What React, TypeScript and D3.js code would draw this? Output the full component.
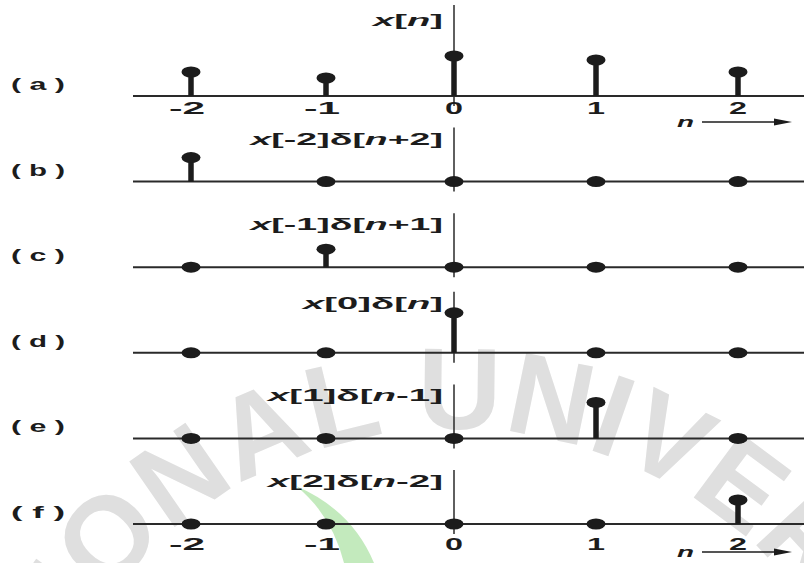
import React from "react";
import * as d3 from "d3";

// sample indices and the signal x[n]
const nValues = [-2, -1, 0, 1, 2];
const xValues = [2.4, 1.8, 4.0, 3.6, 2.4];
const tickLabels = ["-2", "-1", "0", "1", "2"];

// one row per panel: (a) is x[n], the rest keep a single shifted impulse
const panelIds = ["a", "b", "c", "d", "e", "f"];
const panelKeep = [null, -2, -1, 0, 1, 2];
const panelTitles = ["x[n]", "x[-2]δ[n+2]", "x[-1]δ[n+1]", "x[0]δ[n]", "x[1]δ[n-1]", "x[2]δ[n-2]"];

const W = 804;
const H = 563;
const INK = "#1c1c1c";
const FONT = "'Liberation Sans', Arial, sans-serif";

function MathLabel({ x, y, text, len, size }) {
    // x and n are the italic symbols, everything else upright
    return (
        <text x={x} y={y} fontSize={size} fontFamily={FONT} fontWeight="bold" fill={INK}
            textLength={len} lengthAdjust="spacingAndGlyphs">
            {text.split("").map((c, i) => (
                <tspan key={i} fontStyle={c === "x" || c === "n" ? "italic" : "normal"}>{c}</tspan>
            ))}
        </text>
    );
}

function Arrow({ y }) {
    return (
        <g>
            <MathLabel x={677} y={y + 5} text="n" len={17} size={15} />
            <line x1={702} x2={780} y1={y} y2={y} stroke={INK} strokeWidth={1.5} />
            <polygon points={`792,${y} 774,${y - 3.5} 774,${y + 3.5}`} fill={INK} />
        </g>
    );
}

export default function App() {
    const xScale = d3.scaleLinear().domain(nValues).range([191, 326, 454, 596, 738]);
    const yScale = d3.scalePoint().domain(panelIds).range([96, 524]);
    const hScale = d3.scaleLinear().domain([0, 4]).range([0, 40]);
    const x0 = xScale(0);

    // watermark arc, centred below the page
    const arc = d3.path();
    arc.arc(455, 872, 443, Math.PI, 2 * Math.PI);

    return (
        <svg width={W} height={H} viewBox={`0 0 ${W} ${H}`}
            style={{ position: "fixed", left: 0, top: 0, background: "#fff" }}>
            <defs>
                <path id="wm-arc" d={arc.toString()} />
            </defs>

            {/* scanned-page watermark and marker streak */}
            <text fontSize={116} fontFamily={FONT} fontWeight="bold" fill="#dfdfdf" letterSpacing={1}>
                <textPath href="#wm-arc" startOffset="49%" textAnchor="middle">IONAL UNIVER</textPath>
            </text>
            <path d="M 296 486 Q 332 515 344 563 L 374 563 Q 352 510 296 486 Z" fill="#bde8b6" opacity={0.9} />

            {panelIds.map((id, p) => {
                const base = yScale(id);
                const keep = panelKeep[p];
                const title = panelTitles[p];
                const titleOff = p === 0 ? 76 : keep === 0 ? 50 : 43;
                const axisTop = base - titleOff - (p === 0 ? 15 : 11);
                const titleLen = title.length * 17.5;
                return (
                    <g key={id}>
                        <text x={11} y={base - 6} fontSize={17} fontFamily={FONT} fontWeight="bold" fill={INK}
                            textLength={54} lengthAdjust="spacingAndGlyphs">{`( ${id} )`}</text>
                        <line x1={133} x2={W} y1={base} y2={base} stroke="#2a2a2a" strokeWidth={2} />
                        <line x1={x0} x2={x0} y1={axisTop} y2={base + 10} stroke="#2a2a2a" strokeWidth={1.5} />
                        <MathLabel x={x0 - 11 - titleLen} y={base - titleOff + 6} text={title} len={titleLen} size={17} />
                        {nValues.map((n, i) => {
                            const v = keep === null || keep === n ? xValues[i] : 0;
                            const top = base - hScale(v);
                            return (
                                <g key={n}>
                                    {v > 0 && <line x1={xScale(n)} x2={xScale(n)} y1={base} y2={top} stroke={INK} strokeWidth={5.5} />}
                                    <ellipse cx={xScale(n)} cy={top} rx={9.5} ry={5.5} fill={INK} />
                                </g>
                            );
                        })}
                    </g>
                );
            })}

            {/* tick labels under the first and last rows */}
            {[["a", 18], ["f", 26]].map(([id, off]) =>
                nValues.map((n, i) => (
                    <text key={`${id}${n}`} x={xScale(n) - (tickLabels[i].length * 18) / 2 - (n < 0 ? 4 : 0)}
                        y={yScale(id as string) + (off as number)} fontSize={17} fontFamily={FONT} fontWeight="bold" fill={INK}
                        textLength={tickLabels[i].length * 18} lengthAdjust="spacingAndGlyphs">{tickLabels[i]}</text>
                ))
            )}

            <Arrow y={yScale("a") + 26} />
            <Arrow y={yScale("f") + 28} />
        </svg>
    );
}
